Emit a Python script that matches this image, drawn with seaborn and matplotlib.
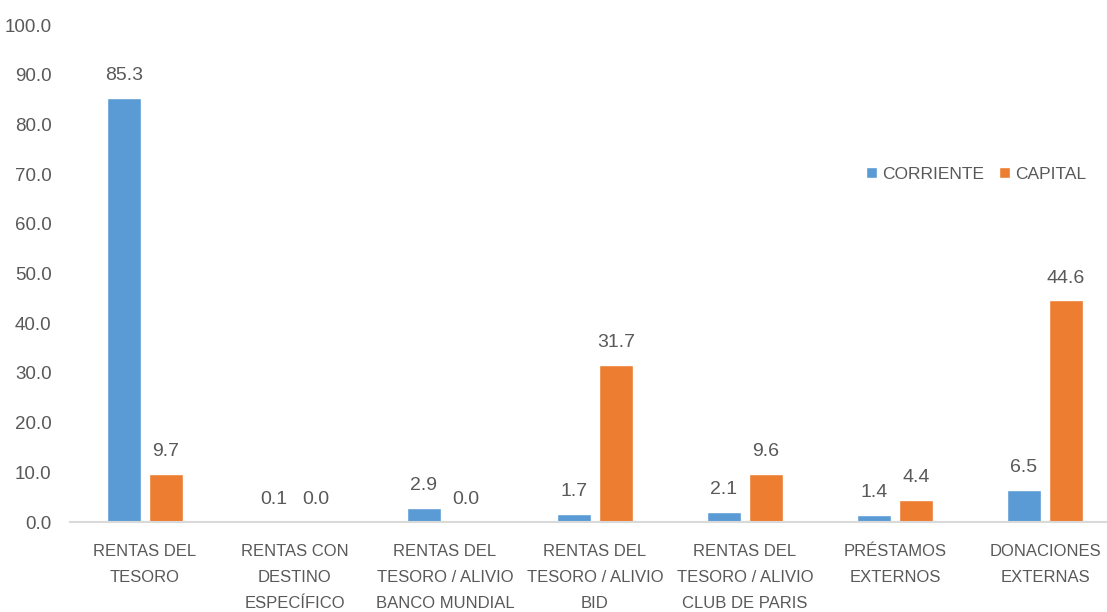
import pandas as pd
import matplotlib
matplotlib.use("agg")
import matplotlib.pyplot as plt
import seaborn as sns

categories = [
    "RENTAS DEL\nTESORO",
    "RENTAS CON\nDESTINO\nESPECÍFICO",
    "RENTAS DEL\nTESORO / ALIVIO\nBANCO MUNDIAL",
    "RENTAS DEL\nTESORO / ALIVIO\nBID",
    "RENTAS DEL\nTESORO / ALIVIO\nCLUB DE PARIS",
    "PRÉSTAMOS\nEXTERNOS",
    "DONACIONES\nEXTERNAS",
]
corriente = [85.3, 0.1, 2.9, 1.7, 2.1, 1.4, 6.5]
capital = [9.7, 0.0, 0.0, 31.7, 9.6, 4.4, 44.6]
series = ["CORRIENTE", "CAPITAL"]
colors = ["#5B9BD5", "#ED7D31"]
y_ticks = [0, 10, 20, 30, 40, 50, 60, 70, 80, 90, 100]

df = pd.DataFrame({
    "categoria": categories * 2,
    "serie": [series[0]] * len(categories) + [series[1]] * len(categories),
    "valor": corriente + capital,
})

sns.set_style("white")
plt.rcParams["font.family"] = ["Liberation Sans", "DejaVu Sans"]
text_color = "#595959"

fig = plt.figure(figsize=(11.07, 6.12), dpi=100)
ax = fig.add_axes([0.063, 0.147, 0.937, 0.812])

sns.barplot(data=df, x="categoria", y="valor", hue="serie", order=categories,
            hue_order=series, palette=colors, width=0.56, gap=0.2,
            saturation=1, ax=ax)

for cont in ax.containers:
    ax.bar_label(cont, fmt="%.1f", padding=10, fontsize=14, color=text_color)

ax.set_ylim(0, 100)
ax.set_xlim(-0.5, 6.413)
ax.set_yticks(y_ticks)
ax.set_yticklabels([f"{v:.1f}" for v in y_ticks], fontsize=13.5, color=text_color)
ax.tick_params(axis="y", length=0, pad=13)
ax.tick_params(axis="x", length=0, pad=16, labelsize=12, labelcolor=text_color)
plt.setp(ax.get_xticklabels(), linespacing=1.9)
ax.set_xlabel("")
ax.set_ylabel("")

for side in ["left", "right", "top"]:
    ax.spines[side].set_visible(False)
ax.spines["bottom"].set_color("#D9D9D9")
ax.spines["bottom"].set_linewidth(1.5)

handles, labels = ax.get_legend_handles_labels()
ax.legend(handles, labels, loc="center right", bbox_to_anchor=(0.995, 0.7),
          ncol=2, frameon=False, fontsize=12.5, handlelength=0.6, handleheight=0.6,
          handletextpad=0.3, columnspacing=0.9, labelcolor=text_color)

fig.savefig("out.png", dpi=100)
